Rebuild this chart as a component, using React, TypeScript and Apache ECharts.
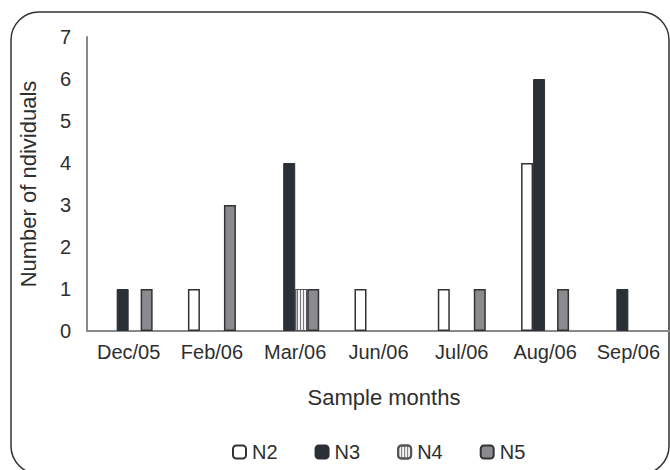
import React, { useEffect, useRef } from "react";
import * as echarts from "echarts";

const categories = ["Dec/05", "Feb/06", "Mar/06", "Jun/06", "Jul/06", "Aug/06", "Sep/06"];
const n2 = [0, 1, 0, 1, 1, 4, 0];
const n3 = [1, 0, 4, 0, 0, 6, 1];
const n4 = [0, 0, 1, 0, 0, 0, 0];
const n5 = [1, 3, 1, 0, 1, 1, 0];
const seriesNames = ["N2", "N3", "N4", "N5"];
const yTitle = "Number of ndividuals";
const xTitle = "Sample months";

const FONT = "Liberation Sans, Arial, sans-serif";

export default function App() {
  const ref = useRef<HTMLDivElement>(null);
  useEffect(() => {
    if (!ref.current) return;
    const chart = echarts.init(ref.current, undefined, { renderer: "svg" });
    const border = "#333";
    const mk = (name: string, data: number[], itemStyle: any) => ({
      name,
      type: "bar",
      data: data.map((v) => (v === 0 ? null : v)),
      barWidth: 12,
      barGap: "0%",
      itemStyle,
    });
    chart.setOption({
      animation: false,
      textStyle: { fontFamily: FONT },
      grid: { left: 87, right: 0, top: 37, bottom: 139, containLabel: false },
      xAxis: {
        type: "category",
        data: categories,
        axisLine: { lineStyle: { color: "#888", width: 2 } },
        axisTick: { show: false },
        axisLabel: { color: "#2e2e2e", fontSize: 20, fontFamily: FONT, margin: 11, interval: 0 },
      },
      yAxis: {
        type: "value",
        min: 0,
        max: 7,
        interval: 1,
        splitLine: { show: false },
        axisLine: { show: true, lineStyle: { color: "#888", width: 2 } },
        axisTick: { show: false },
        axisLabel: { color: "#2e2e2e", fontSize: 20, fontFamily: FONT, margin: 16 },
      },
      legend: {
        data: seriesNames,
        left: 232,
        bottom: 8,
        padding: 0,
        itemWidth: 13,
        itemHeight: 13,
        itemGap: 37,
        textStyle: { color: "#2e2e2e", fontSize: 20, fontFamily: FONT, padding: [0, 0, 0, 1] },
      },
      graphic: [
        {
          type: "rect",
          shape: { x: 11, y: 12, width: 658, height: 462, r: 28 },
          style: { fill: "none", stroke: "#333", lineWidth: 1.5 },
          silent: true,
          z: -1,
        },
        {
          type: "text",
          x: 28,
          y: 184,
          rotation: Math.PI / 2,
          style: {
            text: yTitle,
            fill: "#2e2e2e",
            font: `22px ${FONT}`,
            align: "center",
            verticalAlign: "middle",
          },
        },
        {
          type: "text",
          x: 384,
          y: 397,
          style: {
            text: xTitle,
            fill: "#2e2e2e",
            font: `22px ${FONT}`,
            align: "center",
            verticalAlign: "middle",
          },
        },
      ],
      series: [
        mk("N2", n2, { color: "#ffffff", borderColor: border, borderWidth: 1.5 }),
        mk("N3", n3, { color: "#2b2f37", borderColor: "#2b2f37", borderWidth: 1 }),
        mk("N4", n4, {
          color: "#f2f2f2",
          borderColor: "#555",
          borderWidth: 1,
          decal: {
            symbol: "rect",
            symbolSize: 1,
            color: "#777",
            dashArrayX: [1, 2],
            dashArrayY: [4, 0],
            rotation: 0,
          },
        }),
        mk("N5", n5, { color: "#8a8b8f", borderColor: border, borderWidth: 1.5 }),
      ],
    });
    return () => chart.dispose();
  }, []);
  return (
    <div
      ref={ref}
      style={{ position: "absolute", left: 0, top: 0, width: 670, height: 470, background: "#fff" }}
    />
  );
}
